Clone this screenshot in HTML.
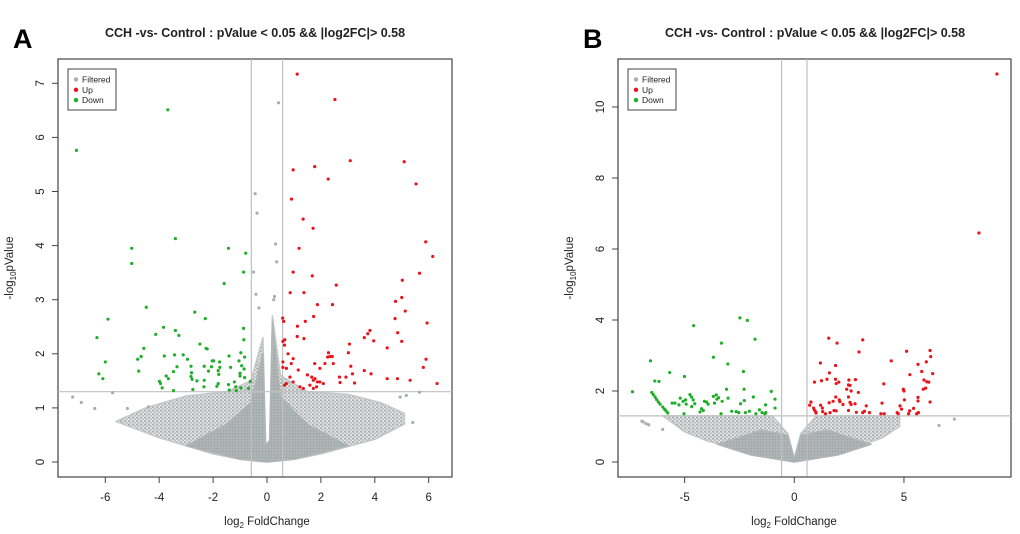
<!DOCTYPE html>
<html><head><meta charset="utf-8">
<style>
html,body{margin:0;padding:0;background:#fff;}
svg{display:block;font-family:"Liberation Sans",Arial,sans-serif;}
</style></head>
<body>
<svg id="fig" width="1020" height="534" viewBox="0 0 1020 534">
  <defs>
    <pattern id="sparse" width="4" height="3.5" patternUnits="userSpaceOnUse">
      <rect width="4" height="3.5" fill="#e6e8e8"/>
      <circle cx="1.2" cy="1.2" r="1.2" fill="#a9afaf"/>
      <circle cx="3.2" cy="3" r="1" fill="#b0b5b5"/>
    </pattern>
    <pattern id="dense" width="3" height="3" patternUnits="userSpaceOnUse">
      <rect width="3" height="3" fill="#b9bebe"/>
      <circle cx="1.5" cy="1.5" r="1.3" fill="#a2a8a8"/>
    </pattern>
  </defs>
  <text x="13" y="48" font-size="27" font-weight="bold">A</text>
  <text x="583" y="48" font-size="27" font-weight="bold">B</text>
  <text x="255" y="37" font-size="12.5" font-weight="bold" text-anchor="middle" fill="#222">CCH -vs- Control : pValue &lt; 0.05 &amp;&amp; |log2FC|&gt; 0.58</text>
  <text x="815" y="37" font-size="12.5" font-weight="bold" text-anchor="middle" fill="#222">CCH -vs- Control : pValue &lt; 0.05 &amp;&amp; |log2FC|&gt; 0.58</text>
  <g id="pa"></g>
  <g id="pb"></g>
</svg>
<script>
// ---------- Panel A data ----------
const aUpX=[1.12,2.52,3.09,5.09,0.97,1.77,2.27,5.53,0.91,1.34,1.71,5.89,1.19,6.15,0.97,1.68,2.57,5.66,5.02,0.86,1.37,5.0,4.77,5.13,1.87,2.43,1.73,0.58,1.42,5.94,4.75,1.13,3.82,3.74,3.61,4.85,3.96,5.0,1.12,1.37,3.06,4.46,3.02,2.28,2.34,2.25,5.90,2.42,5.80,3.61,3.86,4.46,4.84,5.31,6.31,3.11,3.17,2.93,3.25,2.69,2.71,2.46,2.15,1.77,1.96,1.50,1.66,1.72,1.78,1.87,1.96,2.09,1.59,1.72,1.84,1.35,1.22,0.97,0.72,0.85,0.65,0.59,0.90,0.97,1.16,0.72,0.59,0.65,0.78,0.59,0.66,0.62];
const aUpY=[7.17,6.70,5.57,5.55,5.40,5.46,5.23,5.14,4.86,4.49,4.32,4.07,3.95,3.80,3.51,3.44,3.27,3.49,3.36,3.13,3.13,3.04,2.97,2.79,2.91,2.91,2.69,2.66,2.60,2.57,2.65,2.51,2.43,2.37,2.30,2.39,2.24,2.23,2.32,2.28,2.18,2.11,2.02,2.02,1.95,1.94,1.90,1.95,1.75,1.69,1.63,1.54,1.54,1.51,1.45,1.77,1.63,1.57,1.46,1.57,1.47,1.82,1.82,1.82,1.73,1.61,1.57,1.51,1.54,1.48,1.48,1.45,1.42,1.36,1.39,1.36,1.39,1.48,1.45,1.57,1.42,1.75,1.82,1.91,1.70,1.73,1.85,2.16,2.00,2.23,2.26,2.60];
const aDownX=[-7.07,-3.68,-3.40,-5.02,-5.02,-1.43,-0.79,-0.87,-1.59,-4.48,-2.68,-5.90,-2.29,-0.87,-3.84,-3.40,-4.13,-3.27,-6.31,-0.86,-2.49,-2.26,-2.22,-4.57,-4.67,-4.80,-3.81,-3.43,-3.11,-2.95,-6.0,-4.76,-1.41,-0.97,-0.83,-1.04,-2.03,-1.98,-1.76,-2.82,-3.34,-2.33,-2.06,-1.75,-1.35,-0.94,-0.85,-3.47,-2.80,-2.17,-1.81,-1.0,-6.24,-6.09,-2.82,-3.74,-2.78,-3.66,-1.79,-1.0,-0.83,-3.99,-3.95,-3.89,-3.47,-2.33,-2.6,-2.75,-2.34,-1.81,-1.86,-1.43,-1.21,-1.16,-1.14,-1.40,-0.97,-0.69,-0.62];
const aDownY=[5.76,6.51,4.13,3.95,3.67,3.95,3.86,3.51,3.30,2.86,2.77,2.64,2.65,2.47,2.49,2.43,2.36,2.34,2.30,2.26,2.18,2.10,2.09,2.10,1.95,1.90,1.96,1.98,1.98,1.90,1.85,1.68,1.96,2.02,1.94,1.87,1.87,1.87,1.85,1.77,1.76,1.77,1.76,1.75,1.75,1.78,1.72,1.67,1.65,1.68,1.69,1.64,1.63,1.54,1.58,1.59,1.53,1.54,1.62,1.59,1.56,1.49,1.45,1.37,1.32,1.51,1.50,1.34,1.39,1.45,1.40,1.43,1.48,1.39,1.32,1.33,1.37,1.36,1.49];
const aGreyX=[0.43,-0.44,-0.37,0.32,-7.21,-6.89,-6.39,-5.18,-5.73,-4.40,5.41,5.17,4.94,5.66,-0.50,-0.41,0.36,0.28,-0.30,0.25];
const aGreyY=[6.64,4.96,4.60,4.03,1.20,1.10,0.99,0.99,1.28,1.02,0.73,1.23,1.20,1.29,3.51,3.10,3.70,3.06,2.85,3.00];
const aCloudX=[-5.6,-4.5,-3,-1.5,-0.6,-0.15,-0.05,0.1,0.2,0.5,1.5,3,4.2,5.1,5.1,4,2,1,0,-1,-2,-4,-5.6];
const aCloudY=[0.75,1.0,1.22,1.3,1.5,2.3,0.3,0.4,2.7,1.6,1.3,1.25,1.1,0.9,0.7,0.42,0.15,0.05,0,0.05,0.15,0.45,0.75];
const aCoreX=[-3,-1.5,-0.6,-0.15,-0.05,0.1,0.2,0.5,1.5,3,1,0,-1];
const aCoreY=[0.3,0.7,1.1,2.0,0.3,0.4,2.6,1.2,0.7,0.3,0.05,0,0.05];
const aXTicks=[-6,-4,-2,0,2,4,6];
const aYTicks=[0,1,2,3,4,5,6,7];

// ---------- Panel B data ----------
const bUpX=[9.24,8.42,1.57,3.12,1.95,5.12,6.19,6.22,2.95,4.42,1.19,1.88,5.64,6.02,5.81,6.31,5.27,1.60,1.24,0.92,1.49,1.88,2.03,1.91,2.49,2.79,2.47,2.54,5.91,6.04,6.13,4.08,2.39,2.59,2.92,4.97,5.0,5.99,5.88,5.02,1.89,2.05,2.08,1.77,1.59,0.76,0.70,0.88,1.20,1.28,0.92,1.29,0.98,0.99,1.42,1.63,1.81,1.91,2.54,2.59,2.77,2.47,2.83,3.28,3.20,3.12,3.43,3.95,4.10,4.00,4.82,4.74,4.69,4.89,5.26,5.44,5.21,5.64,5.64,5.58,5.66,6.19,2.47,2.22];
const bUpY=[10.93,6.45,3.49,3.44,3.35,3.12,3.14,2.97,3.10,2.85,2.79,2.72,2.75,2.82,2.55,2.49,2.46,2.51,2.29,2.25,2.33,2.33,2.25,2.21,2.31,2.32,2.17,2.16,2.31,2.26,2.25,2.20,2.05,2.00,1.96,2.05,2.00,2.08,2.05,1.75,1.83,1.75,1.70,1.71,1.67,1.69,1.60,1.52,1.60,1.52,1.46,1.42,1.41,1.38,1.36,1.39,1.45,1.44,1.68,1.62,1.64,1.45,1.40,1.58,1.43,1.39,1.39,1.36,1.36,1.66,1.58,1.36,1.39,1.49,1.44,1.51,1.36,1.82,1.72,1.36,1.39,1.69,1.83,1.62];
const bDownX=[-2.48,-2.14,-4.59,-1.79,-3.32,-3.69,-6.56,-3.03,-2.32,-5.68,-6.36,-6.17,-5.01,-2.29,-3.09,-7.38,-1.05,-1.87,-0.88,-2.28,-2.45,-1.31,-0.88,-2.05,-1.59,-1.47,-1.75,-2.23,-1.34,-1.30,-2.65,-2.53,-2.85,-3.34,-3.02,-3.45,-3.69,-3.56,-3.53,-3.64,-3.29,-4.0,-4.1,-3.93,-4.23,-4.15,-4.3,-4.54,-4.69,-4.76,-4.61,-4.96,-5.07,-4.93,-5.26,-5.20,-5.03,-5.44,-5.57,-4.68,-6.50,-6.43,-6.35,-6.28,-6.20,-6.12,-6.00,-5.92,-5.85,-5.77];
const bDownY=[4.06,3.99,3.84,3.46,3.35,2.95,2.85,2.76,2.55,2.52,2.28,2.27,2.41,2.05,2.05,1.98,1.99,1.83,1.77,1.73,1.64,1.61,1.52,1.43,1.47,1.39,1.36,1.39,1.36,1.39,1.42,1.39,1.43,1.36,1.80,1.81,1.85,1.89,1.77,1.66,1.71,1.69,1.71,1.63,1.50,1.45,1.41,1.64,1.83,1.90,1.75,1.75,1.71,1.63,1.61,1.80,1.36,1.66,1.66,1.56,1.96,1.90,1.83,1.76,1.69,1.63,1.55,1.49,1.44,1.38];
const bGreyX=[7.30,6.6,-6.0,-6.89,-6.76,-6.64,-6.95];
const bGreyY=[1.21,1.03,0.92,1.13,1.08,1.05,1.15];
const bCloudX=[-6.0,-3,-1,-0.3,0,0.3,1,3,4.8,4.8,4,2,0,-2,-4,-5,-6.0];
const bCloudY=[1.3,1.3,1.3,0.8,0.1,0.8,1.3,1.3,1.3,1.0,0.68,0.25,0,0.25,0.6,0.85,1.3];
const bCoreX=[-3.5,-1.5,-0.3,0,0.3,1.5,3.5,2,0,-2];
const bCoreY=[0.5,0.9,0.75,0.1,0.75,0.9,0.5,0.2,0,0.2];
const bXTicks=[-5,0,5];
const bYTicks=[0,2,4,6,8,10];

const NS="http://www.w3.org/2000/svg";
function mk(parent,tag,attrs){const e=document.createElementNS(NS,tag);for(const k in attrs)e.setAttribute(k,attrs[k]);parent.appendChild(e);return e;}

function drawPanel(g,cfg){
  const sx=v=>cfg.x0+v*cfg.kx, sy=v=>cfg.y0-v*cfg.ky;
  const box=mk(g,'rect',{x:cfg.L,y:59,width:cfg.R-cfg.L,height:418,fill:'#fff',stroke:'#444','stroke-width':1.2});
  
  
  const cp=cfg.cx.map((x,i)=>sx(x)+','+sy(cfg.cy[i])).join(' ');
  const cl=mk(g,'polygon',{points:cp,fill:'url(#sparse)',stroke:'#c4c8c8','stroke-width':1.5,'stroke-linejoin':'round'});
  
  
  const kp=cfg.kx2.map((x,i)=>sx(x)+','+sy(cfg.ky2[i])).join(' ');
  const co=mk(g,'polygon',{points:kp,fill:'url(#dense)',stroke:'#b0b5b5','stroke-width':1.5,'stroke-linejoin':'round'});
  
  
  [-0.58,0.58].forEach(v=>{const l=mk(g,'line',{x1:sx(v),x2:sx(v),y1:59,y2:477,stroke:'#c0c0c0','stroke-width':1.2});
    
    });
  const h=mk(g,'line',{x1:cfg.L,x2:cfg.R,y1:sy(1.3),y2:sy(1.3),stroke:'#c0c0c0','stroke-width':1.2});
  
  
  const pts=(xs,ys,col,name)=>xs.forEach((x,i)=>{const c=mk(g,'circle',{cx:sx(x),cy:sy(ys[i]),r:1.6,fill:col});
    
    });
  pts(cfg.gx,cfg.gy,'#a9afaf','filtered-point');
  pts(cfg.ux,cfg.uy,'#e8141a','up-point');
  pts(cfg.dx,cfg.dy,'#1fae2a','down-point');
  cfg.xt.forEach(v=>{mk(g,'line',{x1:sx(v),x2:sx(v),y1:477,y2:483,stroke:'#444'});
    const t=mk(g,'text',{x:sx(v),y:501,'font-size':11.5,'text-anchor':'middle',fill:'#222'});t.textContent=v;
    
    });
  mk(g,'line',{x1:sx(cfg.xt[0]),x2:sx(cfg.xt[cfg.xt.length-1]),y1:477,y2:477,stroke:'#444'});
  cfg.yt.forEach(v=>{mk(g,'line',{x1:cfg.L-6,x2:cfg.L,y1:sy(v),y2:sy(v),stroke:'#444'});
    const tx=cfg.L-14;
    const t=mk(g,'text',{x:tx,y:sy(v),'font-size':11.5,'text-anchor':'middle',fill:'#222',transform:`rotate(-90 ${tx} ${sy(v)})`});t.textContent=v;
    
    });
  const xt=mk(g,'text',{x:cfg.xc,y:525,'font-size':11.5,'text-anchor':'middle',fill:'#222'});
  xt.innerHTML='log<tspan font-size="8" dy="3">2</tspan><tspan dy="-3"> FoldChange</tspan>';
  
  
  const yx=cfg.L-45, yy=268;
  const yt=mk(g,'text',{x:yx,y:yy,'font-size':11.5,'text-anchor':'middle',fill:'#222',transform:`rotate(-90 ${yx} ${yy})`});
  yt.innerHTML='-log<tspan font-size="8" dy="3">10</tspan><tspan dy="-3">pValue</tspan>';
  
  
  const lg=mk(g,'g',{});
  
  
  mk(lg,'rect',{x:cfg.L+10,y:69,width:48,height:41,fill:'#fff',stroke:'#444','stroke-width':1});
  [['Filtered','#a9afaf'],['Up','#e8141a'],['Down','#1fae2a']].forEach((e,i)=>{
    const ey=79.5+i*10.3;
    const en=mk(lg,'g',{});
    
    
    mk(en,'circle',{cx:cfg.L+18,cy:ey,r:2.2,fill:e[1]});
    const t=mk(en,'text',{x:cfg.L+24,y:ey+3,'font-size':8.5,fill:'#222'});t.textContent=e[0];
  });
}
drawPanel(document.getElementById('pa'),{L:58,R:452,x0:267,kx:26.95,y0:462,ky:54.1,xc:267,
  cx:aCloudX,cy:aCloudY,kx2:aCoreX,ky2:aCoreY,gx:aGreyX,gy:aGreyY,ux:aUpX,uy:aUpY,dx:aDownX,dy:aDownY,xt:aXTicks,yt:aYTicks});
drawPanel(document.getElementById('pb'),{L:618,R:1011,x0:794.3,kx:21.93,y0:462,ky:35.5,xc:794,
  cx:bCloudX,cy:bCloudY,kx2:bCoreX,ky2:bCoreY,gx:bGreyX,gy:bGreyY,ux:bUpX,uy:bUpY,dx:bDownX,dy:bDownY,xt:bXTicks,yt:bYTicks});
</script>
</body></html>
